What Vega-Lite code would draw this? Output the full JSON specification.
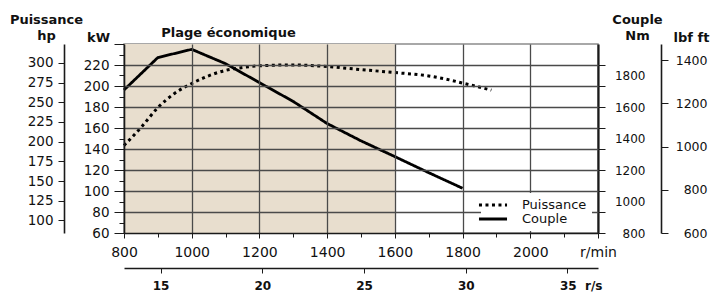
{
  "$schema": "https://vega.github.io/schema/vega-lite/v6.json",
  "width": 474,
  "height": 189,
  "autosize": {"type": "none"},
  "padding": {"left": 124, "top": 44, "right": 114, "bottom": 60},
  "background": "white",
  "config": {
    "font": "DejaVu Sans",
    "view": {"stroke": "#8c8c8c", "strokeWidth": 1.5},
    "axis": {
      "labelFont": "DejaVu Sans",
      "titleFont": "DejaVu Sans",
      "labelColor": "#111111",
      "titleColor": "#111111",
      "domainColor": "#1a1a1a",
      "tickColor": "#1a1a1a",
      "gridColor": "#4a4a4a",
      "labelOverlap": false,
      "labelFlush": false,
      "titleFontSize": 13,
      "titleFontWeight": "bold"
    }
  },
  "datasets": {
    "zone": [{"from": 800, "to": 1600}],
    "power": [
      {"rpm": 800, "kW": 143.4}, {"rpm": 850, "kW": 160.4}, {"rpm": 900, "kW": 179.4},
      {"rpm": 950, "kW": 193.1}, {"rpm": 1000, "kW": 202.4}, {"rpm": 1050, "kW": 209.7},
      {"rpm": 1100, "kW": 214.9}, {"rpm": 1150, "kW": 217.6}, {"rpm": 1200, "kW": 219.2},
      {"rpm": 1300, "kW": 220.1}, {"rpm": 1400, "kW": 218.5}, {"rpm": 1500, "kW": 215.6},
      {"rpm": 1600, "kW": 212.8}, {"rpm": 1700, "kW": 209.6}, {"rpm": 1750, "kW": 206.6},
      {"rpm": 1800, "kW": 202.8}, {"rpm": 1885, "kW": 196.1}
    ],
    "torque": [
      {"rpm": 800, "Nm": 1708}, {"rpm": 900, "Nm": 1914}, {"rpm": 1000, "Nm": 1966},
      {"rpm": 1100, "Nm": 1875}, {"rpm": 1200, "Nm": 1755}, {"rpm": 1300, "Nm": 1635},
      {"rpm": 1400, "Nm": 1495}, {"rpm": 1500, "Nm": 1385}, {"rpm": 1600, "Nm": 1285},
      {"rpm": 1700, "Nm": 1183}, {"rpm": 1800, "Nm": 1084}
    ],
    "kwAxis": [{"kW": 60}, {"kW": 240}],
    "hpAxis": [{"hp": 100}, {"hp": 300}],
    "lbfAxis": [{"lbfft": 600}, {"lbfft": 1400}],
    "rsAxis": [{"rs": 15}, {"rs": 35}]
  },
  "resolve": {"scale": {"x": "independent", "y": "independent"}},
  "layer": [
    {
      "data": {"name": "zone"},
      "mark": {"type": "rect", "color": "#e8dece"},
      "encoding": {
        "x": {
          "field": "from", "type": "quantitative",
          "scale": {"domain": [800, 2200], "nice": false, "zero": false},
          "axis": {
            "orient": "bottom",
            "values": [800, 900, 1000, 1100, 1200, 1300, 1400, 1500, 1600, 1700, 1800, 1900, 2000, 2100, 2200],
            "format": "d",
            "grid": true,
            "zindex": 1,
            "gridWidth": 1.3,
            "gridOpacity": {"condition": {"test": "datum.value % 200 == 0 && datum.value > 800 && datum.value < 2200", "value": 1}, "value": 0},
            "tickSize": {"condition": {"test": "datum.value % 200 == 0", "value": 5}, "value": 4},
            "labelExpr": "datum.value == 2200 ? 'r/min' : (datum.value % 200 == 0 ? datum.label : '')",
            "labelFontSize": 14,
            "labelPadding": 7,
            "domainWidth": 1.6,
            "title": "Plage économique",
            "titleX": 104,
            "titleY": -201,
            "titleAlign": "center",
            "titleBaseline": "middle",
            "titleAngle": 0
          }
        },
        "x2": {"field": "to"}
      }
    },
    {
      "data": {"name": "power"},
      "mark": {"type": "line", "color": "black", "strokeWidth": 3, "strokeCap": "butt", "interpolate": "monotone"},
      "encoding": {
        "x": {"field": "rpm", "type": "quantitative", "scale": {"domain": [800, 2200], "nice": false, "zero": false}, "axis": null},
        "y": {
          "field": "kW", "type": "quantitative",
          "scale": {"domain": [60, 240], "nice": false, "zero": false},
          "axis": {
            "orient": "left",
            "values": [60, 70, 80, 90, 100, 110, 120, 130, 140, 150, 160, 170, 180, 190, 200, 210, 220, 230, 240],
            "grid": true,
            "zindex": 1,
            "gridWidth": 1.3,
            "gridOpacity": {"condition": {"test": "datum.value % 20 == 0 && datum.value > 60 && datum.value < 240", "value": 1}, "value": 0},
            "tickSize": {"condition": {"test": "datum.value % 20 == 0", "value": 10}, "value": 5},
            "labelExpr": "datum.value % 20 == 0 && datum.value < 240 ? datum.label : ''",
            "labelFontSize": 13.5,
            "labelPadding": 5,
            "domainWidth": 1.6,
            "title": "kW",
            "titleAngle": 0,
            "titleX": -26,
            "titleY": -7,
            "titleAlign": "center",
            "titleBaseline": "middle"
          }
        },
        "strokeDash": {
          "datum": "Puissance", "type": "nominal",
          "scale": {"domain": ["Puissance", "Couple"], "range": [[3, 3.5], [1, 0]]},
          "legend": {
            "title": null,
            "orient": "none",
            "legendX": 357,
            "legendY": 149,
            "fillColor": "white",
            "padding": 5,
            "symbolType": "M-2.55,0H2.55",
            "symbolSize": 121,
            "symbolStrokeWidth": 3,
            "symbolStrokeColor": "black",
            "labelOffset": 22,
            "labelFontSize": 13,
            "labelFont": "DejaVu Sans",
            "labelColor": "#111111",
            "rowPadding": 0,
            "zindex": 2
          }
        }
      }
    },
    {
      "data": {"name": "torque"},
      "mark": {"type": "line", "color": "black", "strokeWidth": 2.8},
      "encoding": {
        "x": {"field": "rpm", "type": "quantitative", "scale": {"domain": [800, 2200], "nice": false, "zero": false}, "axis": null},
        "y": {
          "field": "Nm", "type": "quantitative",
          "scale": {"domain": [800, 2000], "nice": false, "zero": false},
          "axis": {
            "orient": "right",
            "values": [800, 1000, 1200, 1400, 1600, 1800],
            "format": "d",
            "grid": false,
            "ticks": false,
            "tickSize": 0,
            "domain": false,
            "labelAlign": "right",
            "labelPadding": 47,
            "labelFontSize": 12,
            "title": ["Couple", "Nm"],
            "titleAngle": 0,
            "titleX": 39,
            "titleY": -31,
            "titleAlign": "center",
            "titleBaseline": "top",
            "titleLineHeight": 16
          }
        },
        "strokeDash": {"datum": "Couple", "type": "nominal"}
      }
    },
    {
      "data": {"name": "kwAxis"},
      "mark": {"type": "point", "opacity": 0},
      "encoding": {
        "y": {
          "field": "kW", "type": "quantitative",
          "scale": {"domain": [60, 240], "nice": false, "zero": false},
          "axis": {
            "orient": "right",
            "values": [60, 80, 100, 120, 140, 160, 180, 200, 220],
            "labels": false,
            "grid": false,
            "tickSize": 7,
            "domainWidth": 2.2,
            "title": null
          }
        }
      }
    },
    {
      "data": {"name": "hpAxis"},
      "mark": {"type": "point", "opacity": 0},
      "encoding": {
        "y": {
          "field": "hp", "type": "quantitative",
          "scale": {"domain": [84, 324], "nice": false, "zero": false},
          "axis": {
            "orient": "left",
            "offset": 60,
            "values": [100, 125, 150, 175, 200, 225, 250, 275, 300],
            "grid": false,
            "tickSize": 6,
            "labelPadding": 5,
            "labelFontSize": 13.5,
            "domainWidth": 1.6,
            "title": ["Puissance", "hp\u00a0\u00a0\u00a0\u00a0"],
            "titleAngle": 0,
            "titleX": -18,
            "titleY": -31,
            "titleAlign": "center",
            "titleBaseline": "top",
            "titleLineHeight": 16
          }
        }
      }
    },
    {
      "data": {"name": "lbfAxis"},
      "mark": {"type": "point", "opacity": 0},
      "encoding": {
        "y": {
          "field": "lbfft", "type": "quantitative",
          "scale": {"domain": [600, 1474], "nice": false, "zero": false},
          "axis": {
            "orient": "right",
            "offset": 63,
            "values": [600, 800, 1000, 1200, 1400],
            "format": "d",
            "grid": false,
            "tickSize": 7,
            "labelAlign": "right",
            "labelPadding": 39,
            "labelFontSize": 12.5,
            "domainWidth": 1.6,
            "title": "lbf ft",
            "titleAngle": 0,
            "titleX": 30,
            "titleY": -7,
            "titleAlign": "center",
            "titleBaseline": "middle"
          }
        }
      }
    },
    {
      "data": {"name": "rsAxis"},
      "mark": {"type": "point", "opacity": 0},
      "encoding": {
        "x": {
          "field": "rs", "type": "quantitative",
          "scale": {"domain": [13.2, 36.5], "nice": false, "zero": false},
          "axis": {
            "orient": "bottom",
            "offset": 35,
            "values": [15, 20, 25, 30, 35],
            "grid": false,
            "tickSize": 5,
            "labelFontSize": 12,
            "labelFontWeight": "bold",
            "labelPadding": 7,
            "labelExpr": "datum.value == 35 ? '35\u00a0\u00a0r/s' : datum.label",
            "labelAlign": {"condition": {"test": "datum.value == 35", "value": "left"}, "value": "center"},
            "labelOffset": {"condition": {"test": "datum.value == 35", "value": -8}, "value": 0},
            "domainWidth": 1.6,
            "title": null
          }
        }
      }
    }
  ]
}
